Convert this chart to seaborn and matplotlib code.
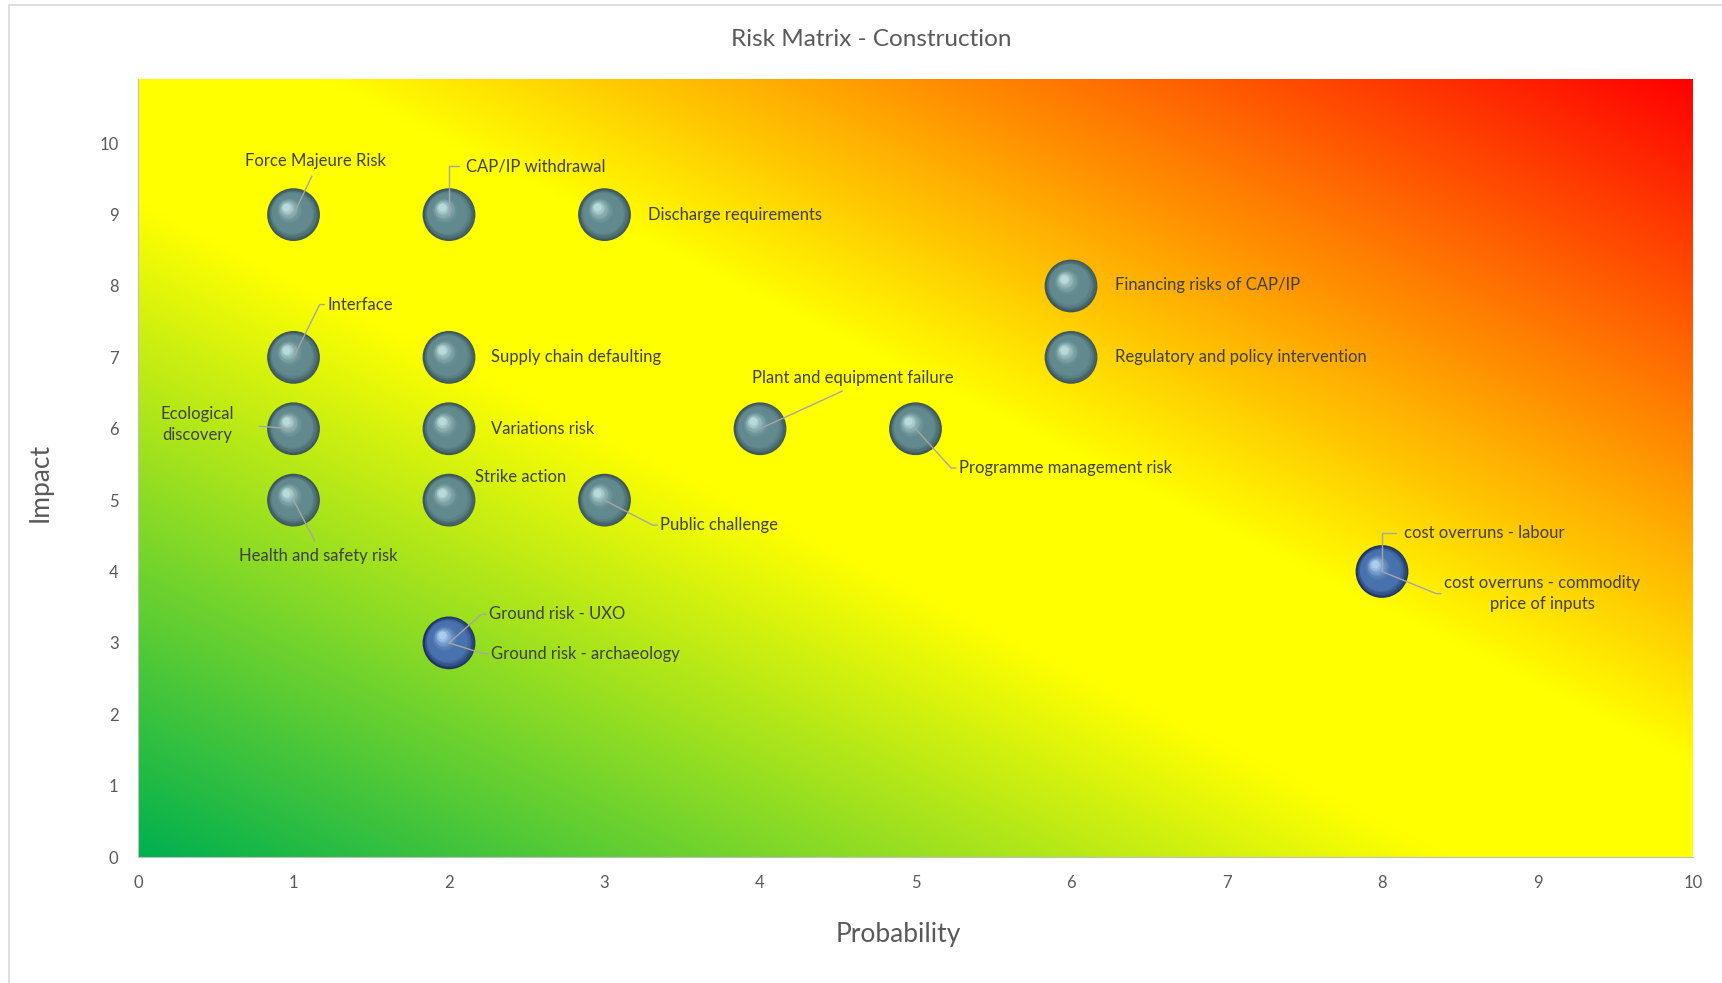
import numpy as np
import pandas as pd
import matplotlib.pyplot as plt
import matplotlib.transforms as mtransforms
import matplotlib.text as mtext
from matplotlib.lines import Line2D
import seaborn as sns

# risk register (probability / impact scores)
risk_names = [
    "Force Majeure Risk", "CAP/IP withdrawal", "Discharge requirements",
    "Financing risks of CAP/IP", "Interface", "Supply chain defaulting",
    "Regulatory and policy intervention", "Ecological\ndiscovery", "Variations risk",
    "Plant and equipment failure", "Programme management risk", "Health and safety risk",
    "Strike action", "Public challenge", "Ground risk - UXO", "Ground risk - archaeology",
    "cost overruns - labour", "cost overruns - commodity\nprice of inputs",
]
probability = [1, 2, 3, 6, 1, 2, 6, 1, 2, 4, 5, 1, 2, 3, 2, 2, 8, 8]
impact = [9, 9, 9, 8, 7, 7, 7, 6, 6, 6, 6, 5, 5, 5, 3, 3, 4, 4]

# where the data labels sit
label_x = [1.14, 2.11, 3.28, 6.28, 1.22, 2.27, 6.28, 0.38, 2.27, 4.60, 5.28, 1.16, 2.17, 3.36, 2.26, 2.27, 8.14, 9.03]
label_y = [9.75, 9.68, 9.0, 8.02, 7.74, 7.0, 7.0, 6.06, 6.0, 6.71, 5.45, 4.22, 5.32, 4.65, 3.40, 2.85, 4.54, 3.69]
label_ha = ["center", "left", "left", "left", "left", "left", "left", "center", "left", "center",
            "left", "center", "left", "left", "left", "left", "left", "center"]
leader = ["bottom", "elbow", None, None, "stub", None, None, "right", None, "bottom",
          "stub", "top", None, "stub", "stub", "stub", "elbow", "stub"]

x_ticks = list(range(0, 11))
y_ticks = list(range(0, 11))

df = pd.DataFrame({"Risk": risk_names, "Probability": probability, "Impact": impact})
pts = df.groupby(["Probability", "Impact"]).size().reset_index(name="n")
pts["group"] = np.where(pts["n"] > 1, "multi", "single")

sns.set_style("white")
plt.rcParams["font.family"] = ["Lato", "DejaVu Sans"]

W_PX, H_PX = 1722, 983
fig = plt.figure(figsize=(W_PX / 100, H_PX / 100), dpi=100)
ax = fig.add_axes([138 / W_PX, 1 - 857 / H_PX, 1555 / W_PX, 778 / H_PX])
ax.set_xlim(0, 10)
ax.set_ylim(0, 10.9)

# diagonal background gradient: green -> yellow -> red
gu, gv = np.meshgrid(np.linspace(0, 1, 600), np.linspace(0, 1, 300))
t = (gu + gv) / 2
stops = [0.0, 0.42, 0.56, 1.0]
cols = np.array([[0, 176, 80], [255, 255, 0], [255, 255, 0], [255, 0, 0]]) / 255
img = np.stack([np.interp(t, stops, cols[:, k]) for k in range(3)], axis=-1)
ax.imshow(img, extent=(0, 10, 0, 10.9), origin="lower", aspect="auto", zorder=0,
          interpolation="bilinear")

# bubbles, shaded to look like spheres
D = 38
shades = {
    "single": ((60, 86, 90), (98, 138, 142), (185, 218, 218)),
    "multi": ((32, 52, 98), (72, 114, 174), (170, 205, 238)),
}
sns.scatterplot(data=pts, x="Probability", y="Impact", hue="group",
                palette={k: np.array(v[0]) / 255 for k, v in shades.items()},
                s=D ** 2, linewidth=0, legend=False, ax=ax, zorder=3)
n_layers = 16
for grp, (dark, mid, light) in shades.items():
    sub = pts[pts["group"] == grp]
    dark, mid, light = [np.array(c) / 255 for c in (dark, mid, light)]
    for i in range(1, n_layers):
        f = i / (n_layers - 1)
        d = D * (1 - 0.85 * f)
        off = 0.14 * D * f
        if f < 0.25:
            c = dark + (mid - dark) * (f / 0.25)
        elif f < 0.55:
            c = mid
        else:
            c = mid + (light - mid) * ((f - 0.55) / 0.45) ** 1.5
        tr = mtransforms.offset_copy(ax.transData, fig=fig, x=-off, y=off, units="points")
        ax.scatter(sub["Probability"], sub["Impact"], s=d ** 2, color=c, linewidth=0,
                   transform=tr, zorder=3)

# data labels with leader lines
lead_kw = dict(arrowstyle="-", color="#A6A6A6", lw=1, shrinkB=0)
relpos = {"bottom": (0.5, 0.0), "top": (0.5, 1.0), "right": (1.0, 0.5),
          "stub": (0.0, 0.5), "elbow": (0.0, 0.5)}
anns = []
for name, px, py, lx, ly, ha, ld in zip(risk_names, probability, impact, label_x, label_y,
                                        label_ha, leader):
    props = None
    if ld is not None:
        props = dict(lead_kw, relpos=relpos[ld], shrinkA=3)
        if ld == "right":
            props["shrinkA"] = 16
        if ld == "elbow":
            props["connectionstyle"] = "angle,angleA=0,angleB=90,rad=0"
    a = ax.annotate(name, xy=(px, py), xytext=(lx, ly), textcoords="data",
                    ha=ha, va="center", multialignment="center", linespacing=1.35,
                    fontsize=12, color="#404040", arrowprops=props, zorder=5)
    anns.append((a, ld, px, py))

fig.canvas.draw()
renderer = fig.canvas.get_renderer()
for a, ld, px, py in anns:
    if ld != "stub":
        continue
    bb = mtext.Text.get_window_extent(a, renderer)
    cx = bb.x0 - 8
    cy = (bb.y0 + bb.y1) / 2
    bx, by = ax.transData.transform((px, py))
    ang = np.degrees(np.arctan2(by - cy, bx - cx))
    a.arrow_patch.set_connectionstyle(f"angle,angleA=0,angleB={ang:.2f},rad=0")
    a.arrow_patch.shrinkA = 0

ax.set_xticks(x_ticks)
ax.set_yticks(y_ticks)
ax.tick_params(axis="x", length=0, pad=13, labelsize=12, labelcolor="#595959")
ax.tick_params(axis="y", length=0, pad=14, labelsize=12, labelcolor="#595959")
for side in ["top", "right"]:
    ax.spines[side].set_visible(False)
for side in ["left", "bottom"]:
    ax.spines[side].set_color("#BFBFBF")
    ax.spines[side].set_linewidth(0.8)

ax.set_xlabel("Probability", fontsize=19, color="#595959", va="center")
ax.xaxis.set_label_coords(0.489, -0.099)
ax.set_ylabel("Impact", fontsize=19, color="#595959", va="center")
ax.yaxis.set_label_coords(-0.063, 0.481)
fig.text(871 / W_PX, 1 - 40 / H_PX, "Risk Matrix - Construction", ha="center", va="center",
         fontsize=17.5, color="#595959")

# chart area border
bx0, by1 = 9 / W_PX, 1 - 5 / H_PX
fig.add_artist(Line2D([bx0, bx0], [0, by1], color="#D9D9D9", lw=1.2))
fig.add_artist(Line2D([bx0, 1], [by1, by1], color="#D9D9D9", lw=1.2))

plt.savefig("out.png", dpi=100)
plt.close()
